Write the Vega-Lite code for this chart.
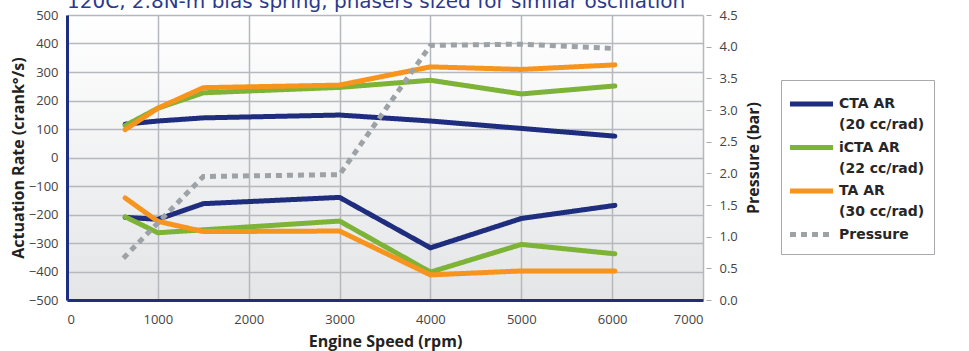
{
  "$schema": "https://vega.github.io/schema/vega-lite/v6.json",
  "width": 636,
  "height": 285,
  "autosize": {"type": "none"},
  "padding": {"left": 67, "top": 15, "right": 266, "bottom": 51},
  "background": "white",
  "title": {
    "text": "120C, 2.8N-m bias spring, phasers sized for similar oscillation",
    "anchor": "start",
    "orient": "top",
    "frame": "group",
    "offset": 1,
    "dy": 20,
    "fontSize": 20,
    "fontWeight": "normal",
    "font": "DejaVu Sans",
    "color": "#2b3990",
    "baseline": "alphabetic"
  },
  "config": {
    "font": "Open Sans",
    "style": {"guide-label": {"lineHeight": 21}},
    "view": {"stroke": null, "fill": {"gradient": "linear", "x1": 0, "y1": 0, "x2": 0, "y2": 1, "stops": [{"offset": 0, "color": "#ffffff"}, {"offset": 1, "color": "#e4e5e7"}]}},
    "axis": {
      "labelFontSize": 13,
      "labelColor": "#444444",
      "titleFontSize": 16,
      "titleFontWeight": "bold",
      "titleColor": "#222222",
      "gridColor": "#b5b9bd",
      "gridWidth": 1.5
    }
  },
  "datasets": {
    "ar": [
      {"series": "CTA AR (20 cc/rad)", "branch": "upper", "rpm": 640, "rate": 117},
      {"series": "CTA AR (20 cc/rad)", "branch": "upper", "rpm": 1000, "rate": 128},
      {"series": "CTA AR (20 cc/rad)", "branch": "upper", "rpm": 1500, "rate": 139},
      {"series": "CTA AR (20 cc/rad)", "branch": "upper", "rpm": 3000, "rate": 149},
      {"series": "CTA AR (20 cc/rad)", "branch": "upper", "rpm": 4000, "rate": 128},
      {"series": "CTA AR (20 cc/rad)", "branch": "upper", "rpm": 5000, "rate": 102},
      {"series": "CTA AR (20 cc/rad)", "branch": "upper", "rpm": 6030, "rate": 75},
      {"series": "CTA AR (20 cc/rad)", "branch": "lower", "rpm": 640, "rate": -210},
      {"series": "CTA AR (20 cc/rad)", "branch": "lower", "rpm": 1000, "rate": -217},
      {"series": "CTA AR (20 cc/rad)", "branch": "lower", "rpm": 1500, "rate": -162},
      {"series": "CTA AR (20 cc/rad)", "branch": "lower", "rpm": 3000, "rate": -140},
      {"series": "CTA AR (20 cc/rad)", "branch": "lower", "rpm": 4000, "rate": -317},
      {"series": "CTA AR (20 cc/rad)", "branch": "lower", "rpm": 5000, "rate": -214},
      {"series": "CTA AR (20 cc/rad)", "branch": "lower", "rpm": 6030, "rate": -168},
      {"series": "iCTA AR (22 cc/rad)", "branch": "upper", "rpm": 640, "rate": 112},
      {"series": "iCTA AR (22 cc/rad)", "branch": "upper", "rpm": 1000, "rate": 173},
      {"series": "iCTA AR (22 cc/rad)", "branch": "upper", "rpm": 1500, "rate": 227},
      {"series": "iCTA AR (22 cc/rad)", "branch": "upper", "rpm": 3000, "rate": 246},
      {"series": "iCTA AR (22 cc/rad)", "branch": "upper", "rpm": 4000, "rate": 271},
      {"series": "iCTA AR (22 cc/rad)", "branch": "upper", "rpm": 5000, "rate": 223},
      {"series": "iCTA AR (22 cc/rad)", "branch": "upper", "rpm": 6030, "rate": 251},
      {"series": "iCTA AR (22 cc/rad)", "branch": "lower", "rpm": 640, "rate": -208},
      {"series": "iCTA AR (22 cc/rad)", "branch": "lower", "rpm": 1000, "rate": -264},
      {"series": "iCTA AR (22 cc/rad)", "branch": "lower", "rpm": 3000, "rate": -223},
      {"series": "iCTA AR (22 cc/rad)", "branch": "lower", "rpm": 4000, "rate": -402},
      {"series": "iCTA AR (22 cc/rad)", "branch": "lower", "rpm": 5000, "rate": -305},
      {"series": "iCTA AR (22 cc/rad)", "branch": "lower", "rpm": 6030, "rate": -338},
      {"series": "TA AR (30 cc/rad)", "branch": "upper", "rpm": 640, "rate": 98},
      {"series": "TA AR (30 cc/rad)", "branch": "upper", "rpm": 1000, "rate": 173},
      {"series": "TA AR (30 cc/rad)", "branch": "upper", "rpm": 1500, "rate": 245},
      {"series": "TA AR (30 cc/rad)", "branch": "upper", "rpm": 3000, "rate": 254},
      {"series": "TA AR (30 cc/rad)", "branch": "upper", "rpm": 4000, "rate": 318},
      {"series": "TA AR (30 cc/rad)", "branch": "upper", "rpm": 5000, "rate": 309},
      {"series": "TA AR (30 cc/rad)", "branch": "upper", "rpm": 6030, "rate": 325},
      {"series": "TA AR (30 cc/rad)", "branch": "lower", "rpm": 640, "rate": -142},
      {"series": "TA AR (30 cc/rad)", "branch": "lower", "rpm": 1000, "rate": -224},
      {"series": "TA AR (30 cc/rad)", "branch": "lower", "rpm": 1500, "rate": -260},
      {"series": "TA AR (30 cc/rad)", "branch": "lower", "rpm": 3000, "rate": -258},
      {"series": "TA AR (30 cc/rad)", "branch": "lower", "rpm": 4000, "rate": -412},
      {"series": "TA AR (30 cc/rad)", "branch": "lower", "rpm": 5000, "rate": -398},
      {"series": "TA AR (30 cc/rad)", "branch": "lower", "rpm": 6030, "rate": -398}
    ],
    "pressure": [
      {"series": "Pressure", "rpm": 620, "bar": 0.66},
      {"series": "Pressure", "rpm": 1500, "bar": 1.95},
      {"series": "Pressure", "rpm": 3000, "bar": 1.98},
      {"series": "Pressure", "rpm": 4000, "bar": 4.02},
      {"series": "Pressure", "rpm": 5000, "bar": 4.04},
      {"series": "Pressure", "rpm": 6030, "bar": 3.97}
    ]
  },
  "layer": [
    {
      "data": {"name": "ar"},
      "mark": {"type": "line", "strokeWidth": 5, "strokeCap": "round", "strokeJoin": "round"},
      "encoding": {
        "x": {
          "field": "rpm", "type": "quantitative",
          "scale": {"domain": [0, 7000], "nice": false},
          "axis": {"values": [0, 1000, 2000, 3000, 4000, 5000, 6000, 7000], "format": "d", "ticks": false, "domainColor": "#1f2d7e", "domainWidth": 3, "labelPadding": 13, "title": "Engine Speed (rpm)", "titlePadding": 7}
        },
        "y": {
          "field": "rate", "type": "quantitative",
          "scale": {"domain": [-500, 500], "nice": false},
          "axis": {"values": [-500, -400, -300, -200, -100, 0, 100, 200, 300, 400, 500], "ticks": false, "domainColor": "#1f2d7e", "domainWidth": 3, "labelPadding": 9, "title": "Actuation Rate (crank°/s)", "titlePadding": 2}
        },
        "color": {
          "field": "series", "type": "nominal", "title": null,
          "scale": {"domain": ["CTA AR (20 cc/rad)", "iCTA AR (22 cc/rad)", "TA AR (30 cc/rad)", "Pressure"], "range": ["#1f2d7e", "#7db337", "#f7941d", "#9da2a7"]},
          "legend": {
            "orient": "none", "legendX": 714, "legendY": 65,
            "symbolType": "M-1.2,0L2.24,0", "symbolStrokeWidth": 5, "symbolSize": 625,
            "labelFont": "DejaVu Sans", "labelFontSize": 14, "labelFontWeight": "bold", "labelColor": "#262626",
            "labelExpr": "indexof(datum.label, '(') > 0 ? ['\u00a0' + substring(datum.label, 0, indexof(datum.label, '(') - 1), substring(datum.label, indexof(datum.label, '(')) + '\u00a0\u00a0\u00a0\u00a0\u00a0\u00a0\u00a0'] : datum.label",
            "labelOffset": 19, "labelLimit": 220,
            "strokeColor": "#a7a9ac", "fillColor": "#ffffff", "padding": 9,
            "rowPadding": 0.5
          }
        },
        "strokeDash": {
          "field": "series", "type": "nominal", "title": null,
          "scale": {"domain": ["CTA AR (20 cc/rad)", "iCTA AR (22 cc/rad)", "TA AR (30 cc/rad)", "Pressure"], "range": [[1, 0], [1, 0], [1, 0], [6, 5]]}
        },
        "detail": {"field": "branch", "type": "nominal"}
      }
    },
    {
      "data": {"name": "pressure"},
      "mark": {"type": "line", "strokeWidth": 5, "strokeCap": "butt"},
      "encoding": {
        "x": {"field": "rpm", "type": "quantitative"},
        "y": {
          "field": "bar", "type": "quantitative",
          "scale": {"domain": [0, 4.5], "nice": false},
          "axis": {"orient": "right", "values": [0, 0.5, 1, 1.5, 2, 2.5, 3, 3.5, 4, 4.5], "format": ".1f", "grid": false, "domain": false, "ticks": true, "tickColor": "#a7a9ac", "tickSize": 5, "offset": 3, "labelPadding": 8, "title": "Pressure (bar)", "titleAngle": -90, "titlePadding": 24}
        },
        "color": {"field": "series", "type": "nominal", "title": null},
        "strokeDash": {"field": "series", "type": "nominal", "title": null}
      }
    }
  ],
  "resolve": {"scale": {"y": "independent"}}
}
